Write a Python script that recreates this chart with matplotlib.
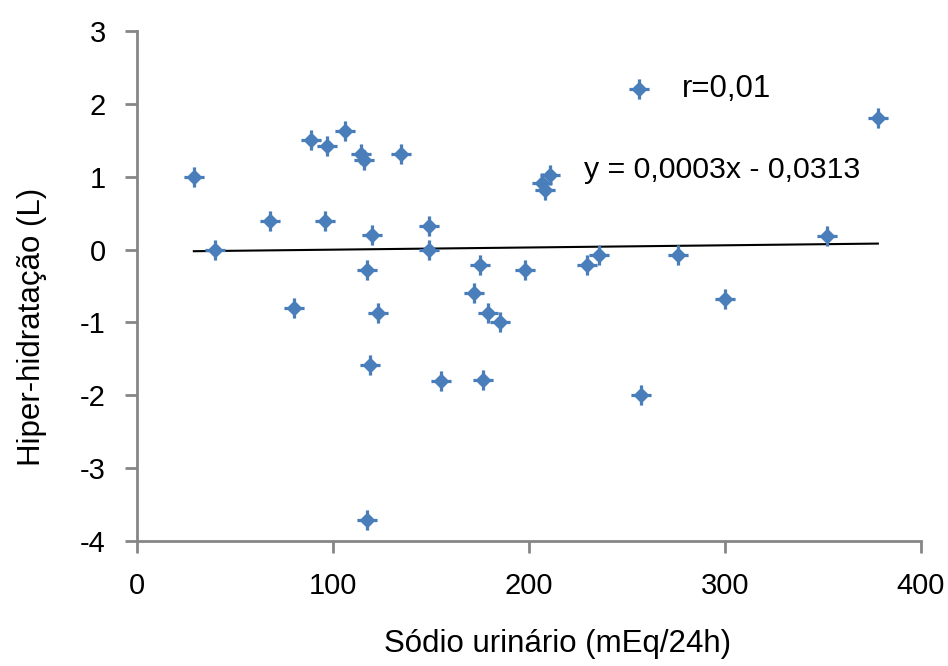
import matplotlib
matplotlib.use("Agg")
import matplotlib.pyplot as plt
import numpy as np
from matplotlib.path import Path

plt.rcParams['font.family'] = ['Liberation Sans', 'DejaVu Sans']
plt.rcParams['axes.unicode_minus'] = False

# Data
sodio = [29, 40, 68, 80, 89, 97, 96, 106, 114.5, 116, 120, 117.5, 123, 118.7,
         134.7, 149, 149, 155, 117.3, 206.6, 208, 210.5, 175, 198, 172, 179,
         185, 176.5, 229.6, 235.5, 276, 300, 257, 352, 378]
hiper = [1.0, 0.0, 0.39, -0.8, 1.5, 1.42, 0.39, 1.63, 1.31, 1.23, 0.2, -0.28,
         -0.87, -1.59, 1.31, 0.32, 0.0, -1.8, -3.71, 0.92, 0.82, 1.03, -0.21,
         -0.28, -0.6, -0.87, -1.0, -1.79, -0.21, -0.08, -0.08, -0.68, -2.0,
         0.18, 1.81]
slope = 0.0003
intercept = -0.0313
legend_label = "r=0,01"
eq_label = "y = 0,0003x - 0,0313"
x_ticks = [0, 100, 200, 300, 400]
y_ticks = [-4, -3, -2, -1, 0, 1, 2, 3]
xlabel = "Sódio urinário (mEq/24h)"
ylabel = "Hiper-hidratação (L)"

W, H = 948, 666
fig = plt.figure(figsize=(W / 100, H / 100), dpi=100)
ax = fig.add_axes([137 / W, 1 - 541 / H, (921 - 137) / W, (541 - 31) / H])

# custom 4-point star / diamond marker
a, d = 0.16, 0.8
b = d - a
verts = [(-a, 1), (a, 1), (a, b), (b, a), (1, a), (1, -a), (b, -a), (a, -b),
         (a, -1), (-a, -1), (-a, -b), (-b, -a), (-1, -a), (-1, a), (-b, a),
         (-a, b), (-a, 1)]
codes = [Path.MOVETO] + [Path.LINETO] * (len(verts) - 2) + [Path.CLOSEPOLY]
star = Path(verts, codes)

blue = '#4A7EBB'
ax.scatter(sodio, hiper, marker=star, s=14.5 ** 2, color=blue,
           linewidths=0, zorder=3, label=legend_label)

xs = np.array([min(sodio), max(sodio)])
ax.plot(xs, slope * xs + intercept, color='black', lw=1.5, zorder=2)

ax.set_xlim(0, 400)
ax.set_ylim(-4, 3)
ax.set_xticks(x_ticks)
ax.set_yticks(y_ticks)

fs_tick = 21
fs_lab = 22.5
for s in ['top', 'right']:
    ax.spines[s].set_visible(False)
for s in ['left', 'bottom']:
    ax.spines[s].set_color('#868686')
    ax.spines[s].set_linewidth(2.0)
ax.tick_params(axis='both', direction='out', length=8.5, width=2.0,
               color='#868686', labelsize=fs_tick, labelcolor='black')
ax.tick_params(axis='y', pad=14)
ax.tick_params(axis='x', pad=14)

ax.set_xlabel(xlabel, fontsize=fs_lab)
ax.set_ylabel(ylabel, fontsize=fs_lab)
ax.xaxis.set_label_coords(0.536, -0.172)
ax.yaxis.set_label_coords(-0.115, 0.42)

ax.legend(loc='center left', bbox_to_anchor=((638 - 15) / W, 1 - 89 / H),
          bbox_transform=fig.transFigure, frameon=False, fontsize=22.5,
          handlelength=1.0, handletextpad=0.9, borderpad=0,
          borderaxespad=0, scatterpoints=1)

fig.text(584 / W, 1 - 170 / H, eq_label, fontsize=21.8, ha='left', va='center')

fig.savefig('out.png', dpi=100)
